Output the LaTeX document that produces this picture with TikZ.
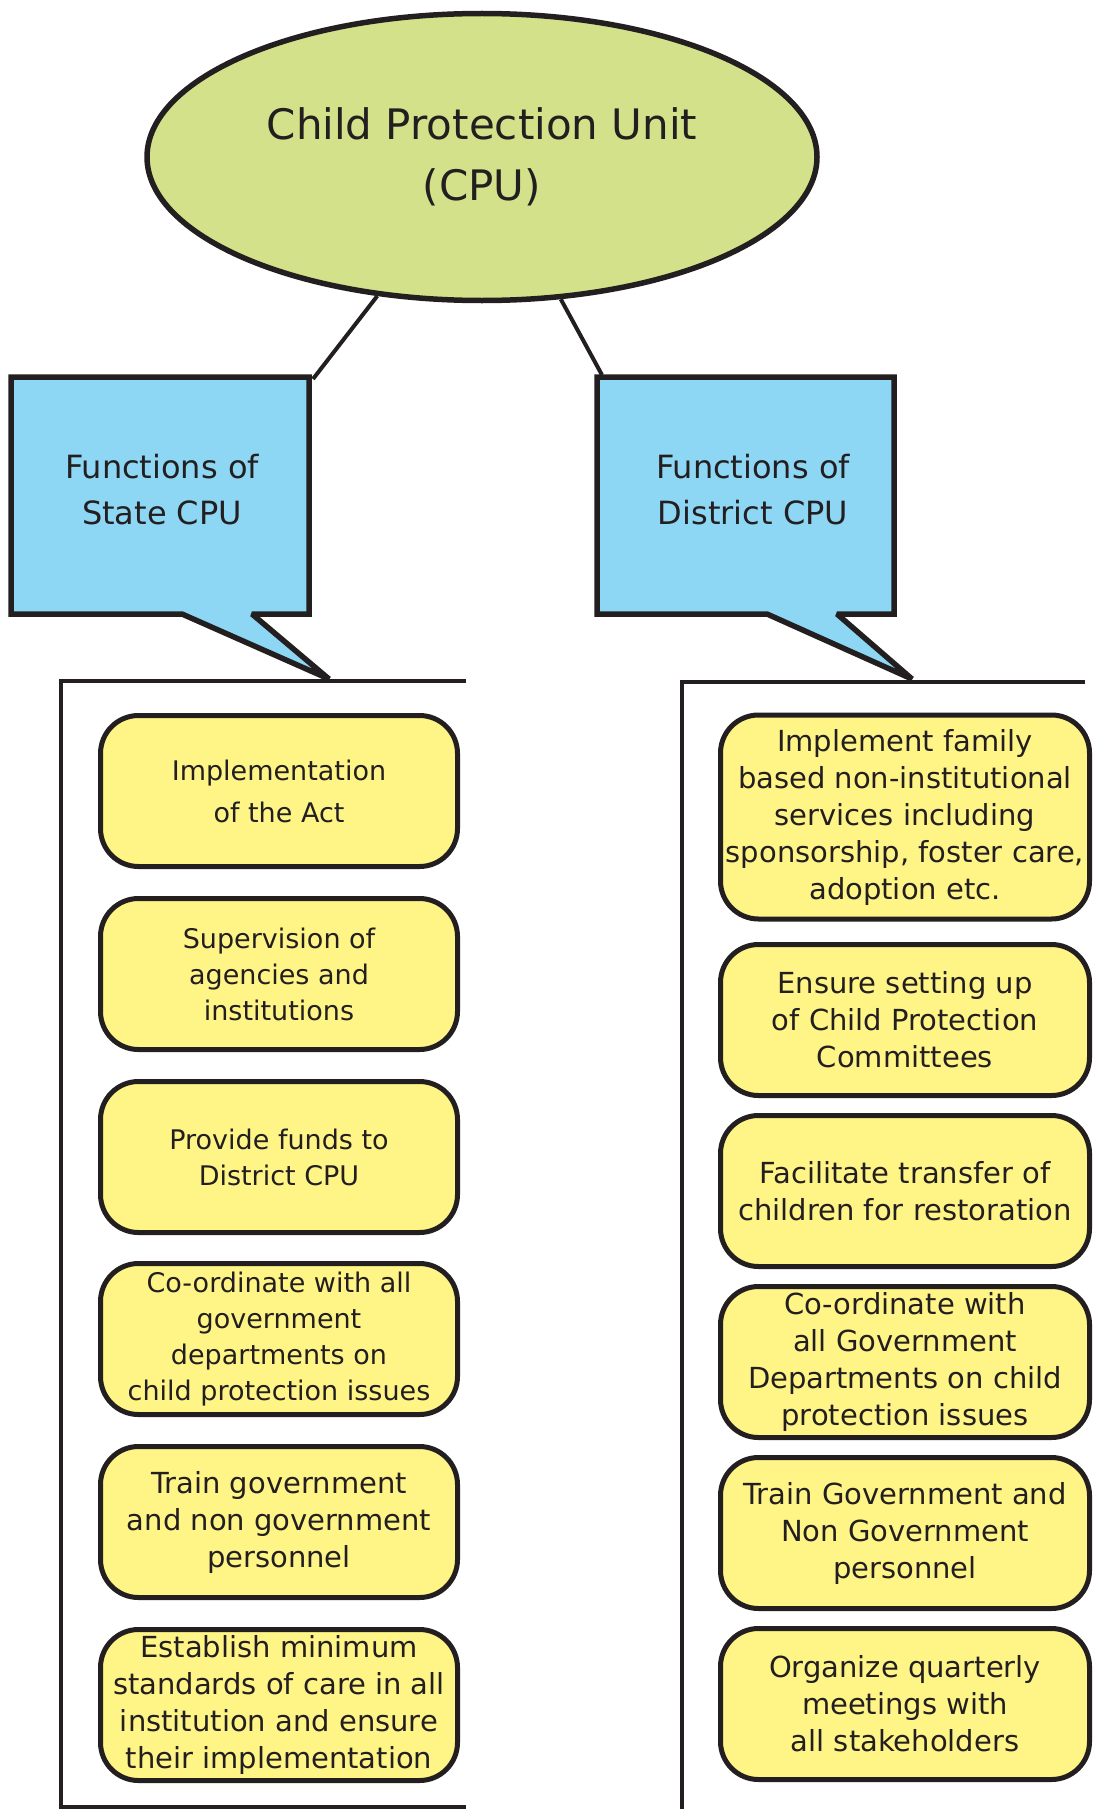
\documentclass[tikz,border=0pt]{standalone}
\usepackage{fontspec}
\setmainfont{DejaVu Sans}
\usepackage{tikz}
\usetikzlibrary{shapes.geometric}

\definecolor{cpugreen}{RGB}{211,226,138}
\definecolor{calloutblue}{RGB}{141,215,245}
\definecolor{itemyellow}{RGB}{255,245,135}
\definecolor{ink}{RGB}{35,31,32}

\begin{document}
\begin{tikzpicture}[x=1pt,y=-1pt,
    every node/.style={text=ink},
    unit/.style={ellipse,draw=ink,line width=5.5pt,fill=cpugreen,minimum width=670pt,minimum height=287pt,align=center,font=\fontsize{42}{61}\selectfont},
    heading/.style={align=center,inner sep=0pt,font=\fontsize{32}{46}\selectfont},
    callout/.style={draw=ink,line width=5.5pt,fill=calloutblue,line join=miter,miter limit=2},
    item/.style={draw=ink,line width=5pt,fill=itemyellow,rounded corners=38pt,minimum width=357pt,minimum height=151pt,align=center,inner sep=0pt,font=\fontsize{29}{37}\selectfont},
    small/.style={font=\fontsize{27}{36}\selectfont},
    wide/.style={minimum width=369pt},
    bracket/.style={draw=ink,line width=3.5pt}]
          \useasboundingbox (0,0) rectangle (1094,1809);
          % top unit
          \node[unit] (cpu) at (482,157) {Child Protection Unit\\(CPU)};
          % brackets round the lists
          \draw[bracket] (466,681) -- (61,681) -- (61,1807) -- (466,1807);
          \draw[bracket] (1085,682) -- (682,682) -- (682,1809);
          % callouts
          \draw[callout] (11,377) -- (309,377) -- (309,614) -- (252,614) -- (329,679) -- (182,614) -- (11,614) -- cycle;
          \node[heading] (state) at (162,490) {Functions of\\State CPU};
          \draw[callout] (597,377) -- (894,377) -- (894,614) -- (837,614) -- (912,679) -- (767,614) -- (597,614) -- cycle;
          \node[heading] (district) at (753,490) {Functions of\\District CPU};
          \coordinate (stateNE) at (313,379);
          \coordinate (districtNW) at (602,375);
          \draw[bracket,line width=4pt] (cpu.233) -- (stateNE);
          \draw[bracket,line width=4pt] (cpu.299) -- (districtNW);
          % state functions
          \node[item,small,font=\fontsize{27}{42}\selectfont] (s1) at (279,791) {Implementation\\of the Act};
          \node[item,small] (s2) at (279,974) {Supervision of\\agencies and\\institutions};
          \node[item,small] (s3) at (279,1157) {Provide funds to\\District CPU};
          \node[item,small] (s4) at (279,1339) {Co-ordinate with all\\government\\departments on\\child protection issues};
          \node[item] (s5) at (279,1522) {Train government\\and non government\\personnel};
          \node[item] (s6) at (279,1705) {Establish minimum\\standards of care in all\\institution and ensure\\their implementation};
          % district functions
          \node[item,wide,minimum height=204pt] (d1) at (905,817) {Implement family\\based non-institutional\\services including\\sponsorship, foster care,\\adoption etc.};
          \node[item,wide] (d2) at (905,1020) {Ensure setting up\\of Child Protection\\Committees};
          \node[item,wide] (d3) at (905,1191) {Facilitate transfer of\\children for restoration};
          \node[item,wide] (d4) at (905,1362) {Co-ordinate with\\all Government\\Departments on child\\protection issues};
          \node[item,wide] (d5) at (905,1533) {Train Government and\\Non Government\\personnel};
          \node[item,wide] (d6) at (905,1704) {Organize quarterly\\meetings with\\all stakeholders};
        \end{tikzpicture}
\end{document}
